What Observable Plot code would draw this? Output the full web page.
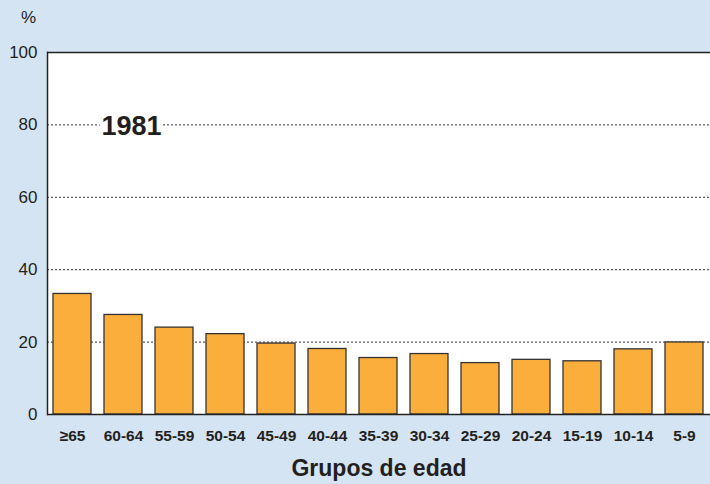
<!DOCTYPE html>
<html>
<head>
<meta charset="utf-8">
<script src="https://cdn.jsdelivr.net/npm/d3@7"></script>
<script src="https://cdn.jsdelivr.net/npm/@observablehq/plot@0.6"></script>
<style>
  html, body { margin: 0; padding: 0; background: #d5e4f2; }
  #chart svg { display: block; }
</style>
</head>
<body>
<div id="chart"></div>
<script>
const categories = ["≥65", "60-64", "55-59", "50-54", "45-49", "40-44", "35-39", "30-34", "25-29", "20-24", "15-19", "10-14", "5-9"];
const values = [33.3, 27.5, 24.0, 22.2, 19.6, 18.1, 15.6, 16.7, 14.2, 15.1, 14.7, 18.0, 19.9];
const yTicks = [0, 20, 40, 60, 80, 100];
const gridTicks = [20, 40, 60, 80];
const yearLabel = "1981";
const yUnit = "%";
const xTitle = "Grupos de edad";

const data = categories.map((c, i) => ({ group: c, value: values[i] }));
const ink = "#231f20";

const chart = Plot.plot({
  width: 710,
  height: 484,
  marginLeft: 47,
  marginRight: 0,
  marginTop: 52,
  marginBottom: 70,
  style: { background: "#d5e4f2", fontFamily: "Liberation Sans, Arial, sans-serif", color: ink },
  x: { domain: categories, paddingInner: 0.25, paddingOuter: 0.085, label: null },
  y: { domain: [0, 100], label: null },
  marks: [
    Plot.frame({ fill: "white", stroke: null }),
    Plot.ruleY(gridTicks, { stroke: "#333", strokeDasharray: "2,2", strokeWidth: 1 }),
    Plot.text([yearLabel], { frameAnchor: "top-left", dx: 54, dy: 74, textAnchor: "start", lineAnchor: "middle", fontSize: 27, fontWeight: "bold", fill: ink, stroke: "white", strokeWidth: 9 }),
    Plot.barY(data, { x: "group", y: "value", fill: "#fbae3c", stroke: "#333", strokeWidth: 1.3 }),
    Plot.axisY({ ticks: yTicks, tickSize: 0, tickPadding: 10, fontSize: 17, label: null }),
    Plot.axisX({ tickSize: 0, tickPadding: 15, fontSize: 15.5, fontWeight: "bold", label: null }),
    Plot.frame({ anchor: "left", stroke: "#222", strokeWidth: 1.5 }),
    Plot.ruleY([0, 100], { stroke: "#222", strokeWidth: 1.5 }),
    Plot.text([yUnit], { frameAnchor: "top-left", dx: -19, dy: -35, textAnchor: "middle", lineAnchor: "middle", fontSize: 17, fill: ink }),
    Plot.text([xTitle], { frameAnchor: "bottom", dy: 54, lineAnchor: "middle", fontSize: 23, fontWeight: "bold", fill: ink })
  ]
});
document.getElementById("chart").append(chart);
</script>
</body>
</html>
